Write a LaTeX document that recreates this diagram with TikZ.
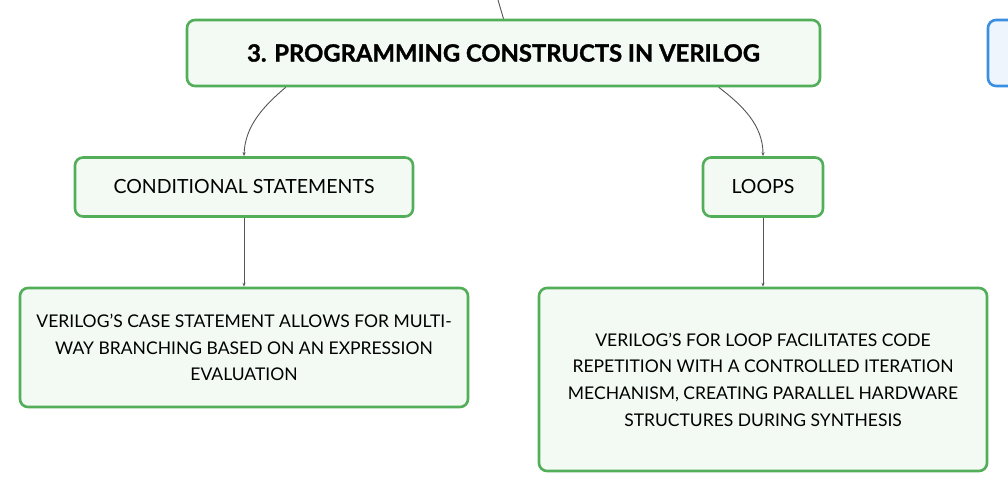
\documentclass[tikz,border=0pt]{standalone}
\usepackage{fontspec}
\setmainfont{Lato}
\usetikzlibrary{arrows.meta}
\definecolor{gborder}{HTML}{52AE58}
\definecolor{gfill}{HTML}{F2FAF3}
\definecolor{bborder}{HTML}{3B8FE3}
\definecolor{bfill}{HTML}{EEF5FD}
\definecolor{conncol}{HTML}{555555}
\tikzset{
  gbox/.style={draw=gborder, fill=gfill, line width=2.6pt, rounded corners=8pt, inner sep=0pt, align=center, font=\fontsize{17.5}{26.7}\selectfont},
  bbox/.style={draw=bborder, fill=bfill, line width=2.6pt, rounded corners=8pt, inner sep=0pt},
  conn/.style={draw=conncol, line width=0.9pt, -{Stealth[length=4pt,width=3pt]}},
  plainconn/.style={draw=conncol, line width=0.9pt}
}
\begin{document}
\begin{tikzpicture}[x=1pt,y=-1pt]
\path[use as bounding box, clip] (0,0) rectangle (1008,494);
\fill[white] (0,0) rectangle (1008,494);
\node[gbox, minimum width=633pt, minimum height=66pt, font=\fontsize{23.8}{28}\bfseries] (main) at (503.5,53) {\addfontfeatures{FakeBold=1.2}3. PROGRAMMING CONSTRUCTS IN VERILOG};
\node[bbox, minimum width=124pt, minimum height=66pt] (next) at (1050,53) {};
\node[gbox, minimum width=338pt, minimum height=59pt, font=\fontsize{19.5}{23}\selectfont] (cond) at (244,187) {CONDITIONAL STATEMENTS};
\node[gbox, minimum width=120pt, minimum height=59pt, font=\fontsize{19.5}{23}\selectfont] (loops) at (763,187) {LOOPS};
\node[gbox, minimum width=448pt, minimum height=119pt] (case) at (244,347.5) {VERILOG'S CASE STATEMENT ALLOWS FOR MULTI-\\WAY BRANCHING BASED ON AN EXPRESSION\\EVALUATION};
\node[gbox, minimum width=448pt, minimum height=183pt] (for) at (763,379.5) {VERILOG'S FOR LOOP FACILITATES CODE\\REPETITION WITH A CONTROLLED ITERATION\\MECHANISM, CREATING PARALLEL HARDWARE\\STRUCTURES DURING SYNTHESIS};
\coordinate (top) at (498,0);
\draw[plainconn] (top) -- (main.north);
\draw[conn] ([xshift=100pt]main.south west) .. controls (265,105) and (245,125) .. (cond.north);
\draw[conn] ([xshift=533pt]main.south west) .. controls (742,105) and (763,125) .. (loops.north);
\draw[conn] (cond.south) -- (case.north);
\draw[conn] (loops.south) -- (for.north);
\end{tikzpicture}
\end{document}
